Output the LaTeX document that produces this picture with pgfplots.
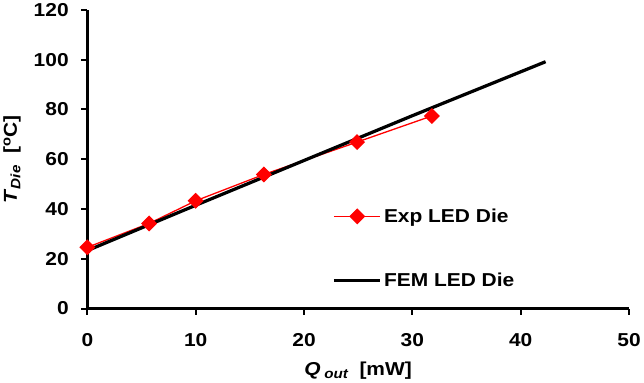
\documentclass[border=0pt]{standalone}
\usepackage{fontspec}
\setmainfont{Liberation Sans}
\usepackage{graphicx}
\usepackage{pgfplots}
\pgfplotsset{compat=1.18}
\pgfdeclareplotmark{rdiam}{%
  \pgfpathmoveto{\pgfqpoint{0pt}{\pgfplotmarksize}}%
  \pgfpathlineto{\pgfqpoint{\pgfplotmarksize}{0pt}}%
  \pgfpathlineto{\pgfqpoint{0pt}{-\pgfplotmarksize}}%
  \pgfpathlineto{\pgfqpoint{-\pgfplotmarksize}{0pt}}%
  \pgfpathclose
  \pgfusepathqfillstroke}
\newcommand{\lbl}{\fontsize{18.6}{22}\selectfont\bfseries}
\newcommand{\sx}[1]{\scalebox{1.12}[1]{#1}}
\newcommand{\mysub}[1]{\raisebox{-0.35ex}{\fontsize{13.5}{14}\selectfont\bfseries\itshape #1}}
\begin{document}
\begin{tikzpicture}
\begin{axis}[
  scale only axis, width=537bp, height=296bp,
  xmin=0, xmax=50, ymin=0, ymax=120,
  xtick={0,10,...,50}, ytick={0,20,...,120},
  axis lines*=left,
  axis line style={line width=2.5bp, black},
  tick align=outside, major tick length=6bp,
  major tick style={line width=2bp, black},
  tick label style={font=\lbl},
  /pgf/number format/assume math mode=true,
  xticklabel={\sx{\pgfmathprintnumber{\tick}}},
  yticklabel={\sx{\pgfmathprintnumber{\tick}}},
  xticklabel style={yshift=-15bp},
  yticklabel style={xshift=-9bp},
  label style={font=\lbl},
  xlabel={\sx{\textit{Q}\,\mysub{out}\ \ [mW]}},
  ylabel={\sx{\textit{T}\mysub{Die}\ \ [\textsuperscript{o}C]}},
  xlabel style={yshift=-8bp},
  ylabel style={yshift=6bp},
  legend style={at={(axis cs:22.6,24.1)}, anchor=west, draw=none, fill=none,
    inner sep=0pt, row sep=45bp, font=\lbl, cells={anchor=west}},
  legend image code/.code={\draw[mark repeat=2,mark phase=2,#1] plot coordinates {(0bp,0bp) (23bp,0bp) (46bp,0bp)};},
]
\addplot[red, line width=1.3bp, mark=rdiam, mark size=7bp, mark options={solid, fill=red, draw=red}]
  coordinates {(0,24.6) (5.7,34.2) (10,43.3) (16.3,53.9) (24.9,66.9) (31.8,77.4)};
\addlegendentry{\sx{Exp LED Die}}
\addplot[black, line width=3.2bp, no marks]
  coordinates {(0,23.3) (10,41.5) (20,59.5) (30,77.5) (42.3,99.2)};
\addlegendentry{\sx{FEM LED Die}}
\end{axis}
\end{tikzpicture}
\end{document}
